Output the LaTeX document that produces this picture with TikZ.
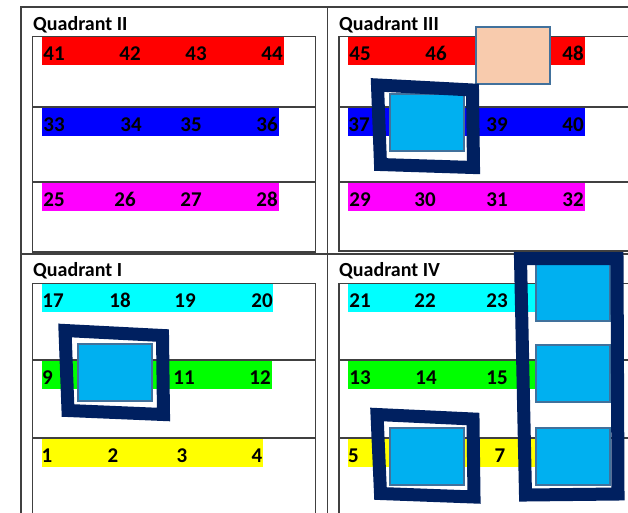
\documentclass[tikz,border=0pt]{standalone}
\usepackage{fontspec}
\setmainfont{Carlito}
\usepackage{tikz}
\usetikzlibrary{positioning}
\definecolor{gridgray}{HTML}{404040}
\definecolor{framenavy}{HTML}{002060}
\definecolor{tileblue}{HTML}{00B0F0}
\definecolor{tileedge}{HTML}{41719C}
\definecolor{peach}{HTML}{F8CBAD}
\definecolor{barred}{HTML}{FF0000}
\definecolor{barblue}{HTML}{0000FF}
\definecolor{barmagenta}{HTML}{FF00FF}
\definecolor{barcyan}{HTML}{00FFFF}
\definecolor{bargreen}{HTML}{00FF00}
\definecolor{baryellow}{HTML}{FFFF00}
\tikzset{
  gridline/.style={draw=gridgray, line width=1.4pt},
  quadtitle/.style={anchor=base west, inner sep=0pt,
    font=\bfseries\fontsize{20}{20}\selectfont},
  numlabel/.style={anchor=base, inner sep=0pt,
    font=\bfseries\fontsize{21}{21}\selectfont},
  tile/.style={
    rectangle, draw=tileedge, line width=2pt, fill=tileblue,
    minimum width=74pt, minimum height=57pt, inner sep=0pt
  },
  ghosttile/.style={tile, fill=peach},
  pickframe/.style={draw=framenavy, line width=13pt, line join=miter},
}

\begin{document}
\begin{tikzpicture}[x=1pt, y=-1pt]
  \useasboundingbox (0,0) rectangle (628,512);
  \clip (0,0) rectangle (628,512);

  % outer table
  \draw[gridline] (21,700) -- (21,7) -- (700,7);
  \draw[gridline] (327.5,7) -- (327.5,700);
  \draw[gridline] (21,254) -- (700,254);

  % colour bars
  \fill[barred]     (42,37)   rectangle (284,65);
  \fill[barblue]    (42,108)  rectangle (279,136);
  \fill[barmagenta] (42,183)  rectangle (279,211);
  \fill[barred]     (348,37)  rectangle (585,65);
  \fill[barblue]    (348,108) rectangle (585,136);
  \fill[barmagenta] (348,183) rectangle (585,211);
  \fill[barcyan]    (42,284)  rectangle (273,312);
  \fill[bargreen]   (42,361)  rectangle (272,389);
  \fill[baryellow]  (42,439)  rectangle (263,467);
  \fill[barcyan]    (348,284) rectangle (585,312);
  \fill[bargreen]   (348,361) rectangle (585,389);
  \fill[baryellow]  (348,439) rectangle (585,467);

  % inner boxes
  \draw[gridline] (32.5,36.5) rectangle (315.5,252);
  \draw[gridline] (32.5,107) -- (315.5,107) (32.5,182) -- (315.5,182);
  \draw[gridline] (339,36.5) rectangle (700,251);
  \draw[gridline] (339,107) -- (700,107) (339,182) -- (700,182);
  \draw[gridline] (32.5,700) -- (32.5,283.5) -- (315.5,283.5) -- (315.5,700);
  \draw[gridline] (32.5,360) -- (315.5,360) (32.5,438) -- (315.5,438);
  \draw[gridline] (339,700) -- (339,283.5) -- (700,283.5);
  \draw[gridline] (339,360) -- (700,360) (339,438) -- (700,438);

  % titles
  \node[quadtitle] (qtwo)   at (33,30)    {Quadrant II};
  \node[quadtitle] (qthree) at (339,30)   {Quadrant III};
  \node[quadtitle] (qone)   at (33,276.5) {Quadrant I};
  \node[quadtitle] (qfour)  at (339,276.5) {Quadrant IV};

  % numbers
  \foreach \n/\x in {41/54,42/130,43/196,44/272,45/360,46/436,48/573}
    \node[numlabel] (n\n) at (\x,60) {\n};
  \foreach \n/\x in {33/54,34/131,35/191,36/267,37/359,39/497,40/573}
    \node[numlabel] (n\n) at (\x,131) {\n};
  \foreach \n/\x in {25/54,26/125,27/191,28/267,29/360,30/425,31/497,32/573}
    \node[numlabel] (n\n) at (\x,206) {\n};
  \foreach \n/\x in {17/53,18/120,19/185,20/262,21/360,22/425,23/497}
    \node[numlabel] (n\n) at (\x,307) {\n};
  \foreach \n/\x in {9/47.5,11/184,12/260,13/360,14/426,15/497}
    \node[numlabel] (n\n) at (\x,384) {\n};
  \foreach \n/\x in {1/47,2/113,3/182,4/257,5/353.5,7/500}
    \node[numlabel] (n\n) at (\x,462) {\n};

  % tiles
  \node[ghosttile] (peach) at (512.5,55.5) {};
  \node[tile] (tthree) at (427,122.5) {};
  \node[tile] (tone)   at (114.5,372) {};
  \node[tile] (tfour)  at (427,456.5) {};
  \foreach \y [count=\i] in {292,373.5,456}
    \node[tile] (tcol\i) at (573,\y) {};

  % frames
  \draw[pickframe] (377.5,85) -- (472.5,90) -- (473.5,167.5) -- (380.5,164.5) -- cycle;
  \draw[pickframe] (65,330.5) -- (162.5,335.5) -- (163.5,414.5) -- (68,410.5) -- cycle;
  \draw[pickframe] (377,414.5) -- (473,419) -- (474,497) -- (380.5,493.5) -- cycle;
  \draw[pickframe] (520.5,258.5) -- (617,258.5) -- (618,494) -- (525.5,495) -- cycle;
\end{tikzpicture}
\end{document}
